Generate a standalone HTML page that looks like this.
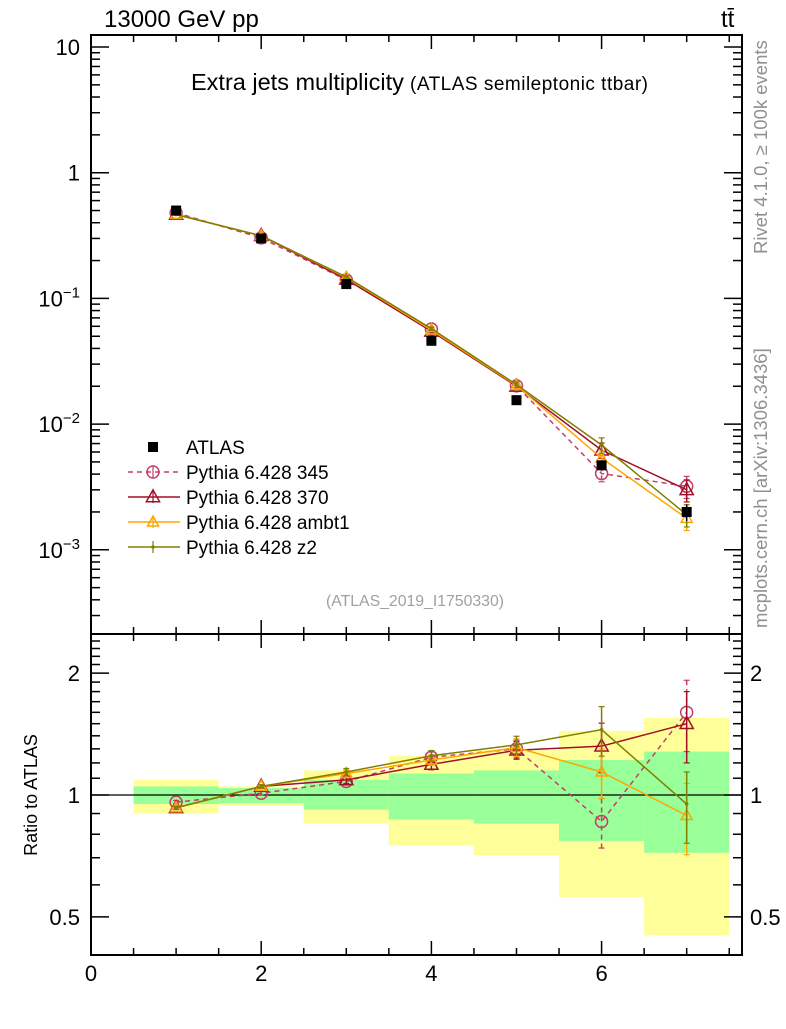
<!DOCTYPE html>
<html><head><meta charset="utf-8"><style>
body{margin:0;background:#fff;}
svg text{font-family:"Liberation Sans","DejaVu Sans",sans-serif;}
</style></head><body>
<svg id="c" width="786" height="1024" xmlns="http://www.w3.org/2000/svg"></svg>
<script>
const xs=[1,2,3,4,5,6,7];
const dataY=[0.50,0.30,0.13,0.046,0.0155,0.0047,0.0020];
const dataErr=[0.02,0.01,0.005,0.002,0.0008,0.0004,0.0003];
const r345=[0.96,1.01,1.08,1.24,1.30,0.86,1.60];
const r370=[0.93,1.05,1.09,1.19,1.29,1.32,1.50];
const rAmbt1=[0.93,1.05,1.13,1.22,1.31,1.14,0.89];
const rZ2=[0.93,1.05,1.14,1.25,1.33,1.45,0.95];
const mcRelErr=[0.01,0.01,0.02,0.03,0.05,0.14,0.2];
const yelLo=[0.90,0.94,0.85,0.75,0.71,0.56,0.45];
const yelHi=[1.09,1.05,1.15,1.25,1.29,1.44,1.55];
const grnLo=[0.95,0.955,0.92,0.87,0.85,0.77,0.72];
const grnHi=[1.05,1.04,1.09,1.13,1.15,1.22,1.28];
const xTicks=[0,2,4,6];
const mainTicks=[[10,"10"],[1,"1"],[0.1,"10^-1"],[0.01,"10^-2"],[0.001,"10^-3"]];
const ratioTicks=[[2,"2"],[1,"1"],[0.5,"0.5"]];

const S=document.getElementById('c');const NS="http://www.w3.org/2000/svg";
function el(t,a,p){const e=document.createElementNS(NS,t);for(const k in a)e.setAttribute(k,a[k]);(p||S).appendChild(e);return e;}
const L=91,R=742,T=35,M=634,B=955;
const X=v=>L+v*(R-L)/7.65;
const Ym=v=>47-(Math.log10(v)-1)*125.7;
const Yr=v=>795-Math.log10(v)*405;

const bands=el('g',{});

xs.forEach((x,i)=>{
 const r=el('rect',{x:X(x-0.5),y:Yr(yelHi[i]),width:X(x+0.5)-X(x-0.5),height:Yr(yelLo[i])-Yr(yelHi[i]),fill:'#ffff99'},bands);
 
 const g=el('rect',{x:X(x-0.5),y:Yr(grnHi[i]),width:X(x+0.5)-X(x-0.5),height:Yr(grnLo[i])-Yr(grnHi[i]),fill:'#99ff99'},bands);
 
});
el('line',{x1:L,x2:R,y1:Yr(1),y2:Yr(1),stroke:'#000','stroke-width':1.2});

for(const [t,b] of [[T,M],[M,B]]){const f=el('rect',{x:L,y:t,width:R-L,height:b-t,fill:'none',stroke:'#000','stroke-width':2});}
for(let v=0;v<=7.5;v+=0.5){const big=v%2===0,len=big?14:7;
 for(const [t,b] of [[T,M],[M,B]]){el('line',{x1:X(v),x2:X(v),y1:b,y2:b-len,stroke:'#000','stroke-width':1.5});el('line',{x1:X(v),x2:X(v),y1:t,y2:t+len,stroke:'#000','stroke-width':1.5});}}
xTicks.forEach(v=>{const t=el('text',{x:X(v),y:981,'font-size':22,'text-anchor':'middle'});t.textContent=v;});
for(let d=-4;d<=1;d++)for(let m=1;m<10;m++){const v=m*Math.pow(10,d);const y=Ym(v);if(y<T||y>M)continue;const len=m===1?18:9;
 el('line',{x1:L,x2:L+len,y1:y,y2:y,stroke:'#000','stroke-width':1.5});el('line',{x1:R,x2:R-len,y1:y,y2:y,stroke:'#000','stroke-width':1.5});}
mainTicks.forEach(([v,s])=>{const t=el('text',{x:80,y:Ym(v)+8,'font-size':22,'text-anchor':'end'});
 
 if(s.includes('^')){const [b,e]=s.split('^');t.textContent=b;const ts=el('tspan',{dy:-9,'font-size':15},t);ts.textContent=e.replace('-','\u2212');}else t.textContent=s;});
for(let v=0.4;v<=2.5001;v+=0.1){const y=Yr(v);if(y<M||y>B)continue;const maj=Math.abs(v-1)<1e-6||Math.abs(v-2)<1e-6||Math.abs(v-0.5)<1e-6;const len=maj?18:9;
 el('line',{x1:L,x2:L+len,y1:y,y2:y,stroke:'#000','stroke-width':1.5});el('line',{x1:R,x2:R-len,y1:y,y2:y,stroke:'#000','stroke-width':1.5});}
ratioTicks.forEach(([v,s])=>{const t=el('text',{x:80,y:Yr(v)+8,'font-size':22,'text-anchor':'end'});t.textContent=s;
 const t2=el('text',{x:750,y:Yr(v)+8,'font-size':22});t2.textContent=s;});

const series=[
 {name:'345',r:r345,c:'#c0406a',dash:'5,4',mk:'circle'},
 {name:'370',r:r370,c:'#a0102a',dash:'',mk:'tri'},
 {name:'ambt1',r:rAmbt1,c:'#ffa500',dash:'',mk:'tri'},
 {name:'z2',r:rZ2,c:'#808000',dash:'',mk:'dot'}];
function marker(g,m,x,y,c,sz){
 if(m==='circle')el('circle',{cx:x,cy:y,r:sz,fill:'none',stroke:c,'stroke-width':1.5},g);
 else if(m==='tri')el('path',{d:`M${x},${y-sz*1.2}L${x+sz*1.1},${y+sz*0.8}L${x-sz*1.1},${y+sz*0.8}Z`,fill:'none',stroke:c,'stroke-width':1.5},g);
 else el('circle',{cx:x,cy:y,r:1.8,fill:c},g);}
series.forEach(s=>{
 for(const [Y,f] of [[Ym,i=>s.r[i]*dataY[i]],[Yr,i=>s.r[i]]]){
  const g=el('g',{});
  el('polyline',{points:xs.map((x,i)=>X(x)+','+Y(f(i))).join(' '),fill:'none',stroke:s.c,'stroke-width':1.5,'stroke-dasharray':s.dash},g);
  xs.forEach((x,i)=>{const v=f(i),e=mcRelErr[i];
   el('line',{x1:X(x),x2:X(x),y1:Y(v*(1+e)),y2:Y(v*(1-e)),stroke:s.c,'stroke-width':1.5,'stroke-dasharray':s.dash},g);
   el('line',{x1:X(x)-3,x2:X(x)+3,y1:Y(v*(1+e)),y2:Y(v*(1+e)),stroke:s.c,'stroke-width':1.2},g);
   el('line',{x1:X(x)-3,x2:X(x)+3,y1:Y(v*(1-e)),y2:Y(v*(1-e)),stroke:s.c,'stroke-width':1.2},g);
   marker(g,s.mk,X(x),Y(v),s.c,s.name==='ambt1'?5:6);});
 }});
const dg=el('g',{});
xs.forEach((x,i)=>{el('line',{x1:X(x),x2:X(x),y1:Ym(dataY[i]+dataErr[i]),y2:Ym(dataY[i]-dataErr[i]),stroke:'#000','stroke-width':1.5},dg);
 el('rect',{x:X(x)-5,y:Ym(dataY[i])-5,width:10,height:10,fill:'#000'},dg);});

const lg=el('g',{});
el('rect',{x:148,y:442,width:10,height:10,fill:'#000'},lg);
let t=el('text',{x:186,y:454,'font-size':19},lg);t.textContent='ATLAS';
series.forEach((s,k)=>{const y=472+k*25;
 el('line',{x1:128,x2:180,y1:y,y2:y,stroke:s.c,'stroke-width':1.5,'stroke-dasharray':s.dash},lg);
 el('line',{x1:153,x2:153,y1:y-6,y2:y+6,stroke:s.c,'stroke-width':1.2},lg);
 marker(lg,s.mk,153,y,s.c,s.name==='ambt1'?5:6);
 const tt=el('text',{x:186,y:y+7,'font-size':19},lg);tt.textContent='Pythia 6.428 '+s.name;});

function txt(x,y,s,a){const e=el('text',Object.assign({x:x,y:y},a));e.textContent=s;return e;}
let e=txt(104,27,'13000 GeV pp',{'font-size':24});
e=txt(721,27,'tt\u0304',{'font-size':24});
e=txt(191,90,'Extra jets multiplicity',{'font-size':23.5});
e=txt(410,90,'(ATLAS semileptonic ttbar)',{'font-size':19,textLength:238});
e=txt(415,606,'(ATLAS_2019_I1750330)',{'font-size':15.8,fill:'#a0a0a0','text-anchor':'middle'});
e=txt(0,0,'Ratio to ATLAS',{'font-size':18,transform:'translate(37,795) rotate(-90)','text-anchor':'middle'});
e=txt(0,0,'Rivet 4.1.0, \u2265 100k events',{'font-size':18.5,fill:'#909090',transform:'translate(767,254) rotate(-90)'});
e=txt(0,0,'mcplots.cern.ch [arXiv:1306.3436]',{'font-size':18.5,fill:'#909090',transform:'translate(767,628) rotate(-90)'});
</script>
</body></html>
